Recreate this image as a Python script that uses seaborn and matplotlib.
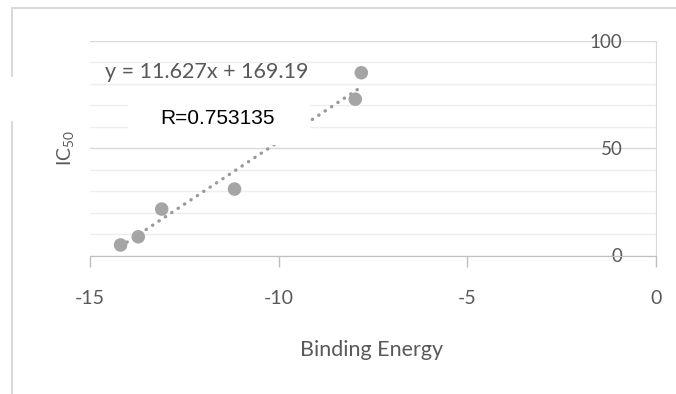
import matplotlib.pyplot as plt
from matplotlib.patches import Rectangle
from matplotlib.lines import Line2D
import seaborn as sns
import pandas as pd

# values
binding_energy = [-14.19, -13.72, -13.10, -11.17, -7.97, -7.81]
ic50 = [4.9, 8.7, 21.6, 30.9, 72.7, 85.0]
slope = 11.627
intercept = 169.19
equation_label = 'y = 11.627x + 169.19'
r_label = 'R=0.753135'
x_ticks = [-15, -10, -5, 0]
y_ticks = [0, 50, 100]
y_minor = [10, 20, 30, 40, 60, 70, 80, 90]

W, H = 676, 394
GRAY = '#595959'
MARK = '#a5a5a5'

sns.set_style('white')
plt.rcParams['font.family'] = ['Lato', 'DejaVu Sans']
plt.rcParams['mathtext.default'] = 'regular'
plt.rcParams['axes.unicode_minus'] = False


def fx(px):
    return px / W


def fy(py):
    return 1 - py / H


fig = plt.figure(figsize=(W / 100, H / 100), dpi=100)
ax = fig.add_axes([fx(90), fy(255.5), 566 / W, 215 / H])

df = pd.DataFrame({'energy': binding_energy, 'ic50': ic50})
trend = pd.DataFrame({'energy': [min(binding_energy), max(binding_energy)]})
trend['ic50'] = slope * trend['energy'] + intercept

ax.set_xlim(-15, 0)
ax.set_ylim(0, 100)
ax.set_xticks(x_ticks)
ax.set_yticks(y_ticks)
ax.set_yticks(y_minor, minor=True)
ax.yaxis.grid(True, which='major', color='#d9d9d9', lw=1)
ax.yaxis.grid(True, which='minor', color='#eeeeee', lw=1)
ax.xaxis.grid(False)
ax.set_axisbelow(True)

sns.lineplot(data=trend, x='energy', y='ic50', ax=ax, color='#9a9a9a', lw=2.4, zorder=2)
tl = ax.lines[-1]
tl.set_linestyle((0, (0.1, 2.2)))
tl.set_dash_capstyle('round')

sns.scatterplot(data=df, x='energy', y='ic50', ax=ax, color=MARK, s=95,
                edgecolor='none', linewidth=0, zorder=3)
ax.set_xlabel('')
ax.set_ylabel('')

for side in ['left', 'top']:
    ax.spines[side].set_visible(False)
ax.spines['right'].set_color('#d9d9d9')
ax.spines['bottom'].set_color('#bfbfbf')

ax.tick_params(axis='x', direction='out', length=8, width=1, color='#bfbfbf',
               pad=17, labelsize=14, labelcolor=GRAY, bottom=True)
ax.yaxis.tick_right()
ax.tick_params(axis='y', which='both', length=0, pad=-24, labelsize=13.5,
               labelcolor=GRAY)
for lbl in ax.get_yticklabels():
    lbl.set_ha('right')
    lbl.set_va('center_baseline')

fig.text(fx(372), fy(350), 'Binding Energy', ha='center', va='center',
         fontsize=15.5, color=GRAY)
fig.text(fx(66), fy(148), 'IC$_{50}$', ha='center', va='center', rotation=90,
         fontsize=14, color=GRAY)
fig.text(fx(105), fy(72), equation_label, ha='left', va='center',
         fontsize=15.5, color=GRAY)

# chart frame and pasted white boxes
for seg in [((12, 676), (8, 8)), ((12, 12), (8, 76)), ((12, 12), (122, 394))]:
    fig.add_artist(Line2D([fx(v) for v in seg[0]], [fy(v) for v in seg[1]],
                          color='#d9d9d9', lw=1.5, transform=fig.transFigure))
fig.add_artist(Rectangle((fx(128), fy(145)), 182 / W, 50 / H,
                         transform=fig.transFigure, facecolor='white',
                         edgecolor='none', zorder=5))
fig.text(fx(160), fy(118), r_label, ha='left', va='center', fontsize=15,
         color='black', family='Liberation Sans', zorder=6)

fig.savefig('out.png', dpi=100)
